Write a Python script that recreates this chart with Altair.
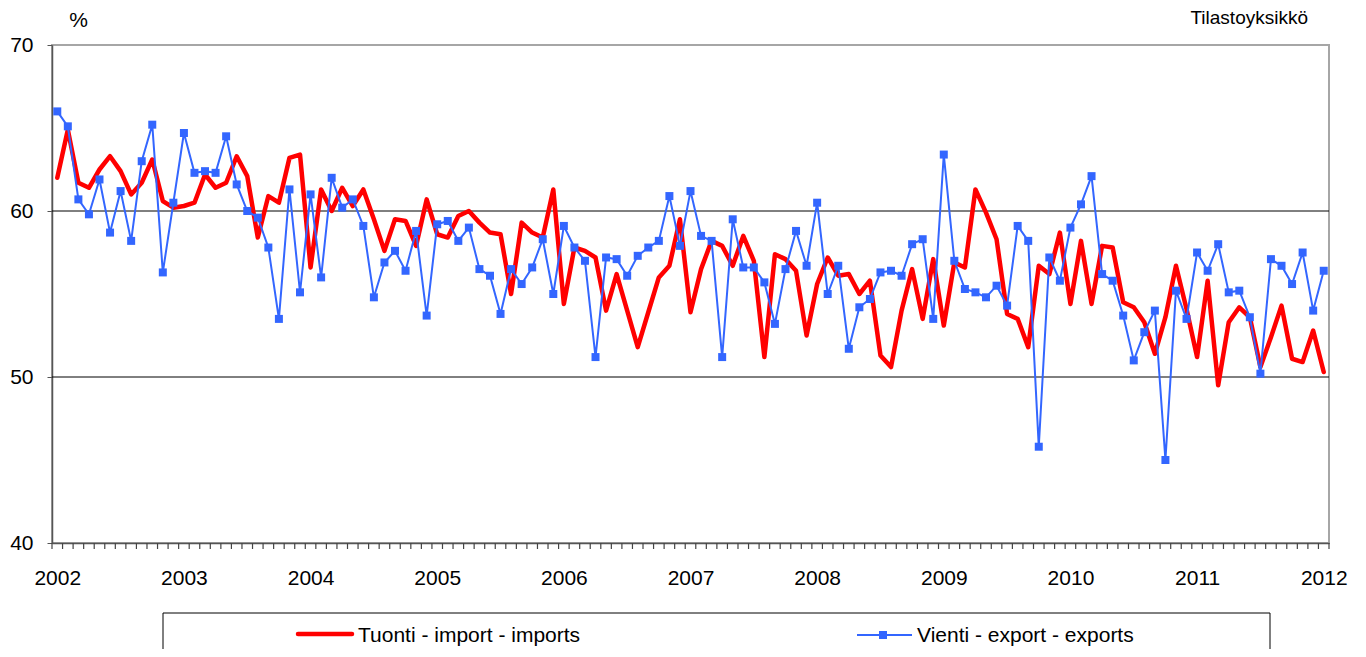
import altair as alt
import pandas as pd

years = list(range(2002, 2013))
series_names = ["Tuonti - import - imports", "Vienti - export - exports"]
series_colors = ["#FF0000", "#3366FF"]
source_label = "Tilastoyksikkö"
y_ticks = [40, 50, 60, 70]
grid_values = [50, 60]

imports = [
    62.0, 64.9, 61.7, 61.4, 62.5, 63.3, 62.4, 61.0, 61.7, 63.1, 60.6, 60.2,
    60.3, 60.5, 62.2, 61.4, 61.7, 63.3, 62.1, 58.4, 60.9, 60.5, 63.2, 63.4,
    56.6, 61.3, 60.0, 61.4, 60.3, 61.3, 59.5, 57.6, 59.5, 59.4, 57.9, 60.7,
    58.6, 58.4, 59.7, 60.0, 59.3, 58.7, 58.6, 55.0, 59.3, 58.7, 58.4, 61.3,
    54.4, 57.8, 57.6, 57.2, 54.0, 56.2, 54.0, 51.8, 53.9, 56.0, 56.7, 59.5,
    53.9, 56.5, 58.2, 57.9, 56.7, 58.5, 57.0, 51.2, 57.4, 57.1, 56.4, 52.5,
    55.6, 57.2, 56.1, 56.2, 55.0, 55.8, 51.3, 50.6, 54.0, 56.5, 53.5, 57.1,
    53.1, 56.9, 56.6, 61.3, 59.9, 58.3, 53.8, 53.5, 51.8, 56.7, 56.2, 58.7,
    54.4, 58.2, 54.4, 57.9, 57.8, 54.5, 54.2, 53.3, 51.4, 53.6, 56.7, 54.1,
    51.2, 55.8, 49.5, 53.3, 54.2, 53.6, 50.6, 52.4, 54.3, 51.1, 50.9, 52.8,
    50.3,
]

exports = [
    66.0, 65.1, 60.7, 59.8, 61.9, 58.7, 61.2, 58.2, 63.0, 65.2, 56.3, 60.5,
    64.7, 62.3, 62.4, 62.3, 64.5, 61.6, 60.0, 59.6, 57.8, 53.5, 61.3, 55.1,
    61.0, 56.0, 62.0, 60.2, 60.7, 59.1, 54.8, 56.9, 57.6, 56.4, 58.8, 53.7,
    59.2, 59.4, 58.2, 59.0, 56.5, 56.1, 53.8, 56.5, 55.6, 56.6, 58.3, 55.0,
    59.1, 57.8, 57.0, 51.2, 57.2, 57.1, 56.1, 57.3, 57.8, 58.2, 60.9, 57.9,
    61.2, 58.5, 58.2, 51.2, 59.5, 56.6, 56.6, 55.7, 53.2, 56.5, 58.8, 56.7,
    60.5, 55.0, 56.7, 51.7, 54.2, 54.7, 56.3, 56.4, 56.1, 58.0, 58.3, 53.5,
    63.4, 57.0, 55.3, 55.1, 54.8, 55.5, 54.3, 59.1, 58.2, 45.8, 57.2, 55.8,
    59.0, 60.4, 62.1, 56.2, 55.8, 53.7, 51.0, 52.7, 54.0, 45.0, 55.2, 53.5,
    57.5, 56.4, 58.0, 55.1, 55.2, 53.6, 50.2, 57.1, 56.7, 55.6, 57.5, 54.0,
    56.4,
]

n = len(imports)
FONT = "Liberation Sans"

imp_df = pd.DataFrame({"pos": [i + 0.5 for i in range(n)], "value": imports})
exp_df = pd.DataFrame({"pos": [i + 0.5 for i in range(n)], "value": exports})
grid_df = pd.DataFrame({"g": grid_values})
tick_df = pd.DataFrame({"b": list(range(n + 1))})

x_enc = alt.X(
    "pos:Q",
    scale=alt.Scale(domain=[0, n], nice=False, zero=False),
    axis=alt.Axis(
        values=list(range(0, n + 1, 12)),
        labelExpr=f"toString({years[0]} + datum.value / 12)",
        labelOffset=5.3,
        labelFlush=False,
        labelOverlap=False,
        labelBound=False,
        ticks=False,
        domainColor="#555555",
        domainWidth=1.5,
        labelPadding=24,
        labelFont=FONT,
        labelFontSize=21,
        labelColor="black",
        grid=False,
        title=None,
    ),
)

y_enc = alt.Y(
    "value:Q",
    scale=alt.Scale(domain=[40, 70], nice=False, zero=False),
    axis=alt.Axis(
        values=y_ticks,
        tickSize=5,
        tickColor="#555555",
        domainColor="#555555",
        domainWidth=1.5,
        labelPadding=14,
        labelFont=FONT,
        labelFontSize=21,
        labelColor="black",
        labelFlush=False,
        grid=False,
        title="%",
        titleAngle=0,
        titleX=26,
        titleY=-19,
        titleAlign="center",
        titleBaseline="alphabetic",
        titleFont=FONT,
        titleFontSize=21,
        titleFontWeight="normal",
        titleColor="black",
    ),
)

grid = alt.Chart(grid_df).mark_rule(color="black", strokeWidth=1).encode(y="g:Q")

month_ticks = alt.Chart(tick_df).mark_rule(color="#444444", strokeWidth=1.2).encode(
    x="b:Q", y=alt.value(498), y2=alt.value(504)
)

red_line = alt.Chart(imp_df).mark_line(
    color=series_colors[0], strokeWidth=4.5, strokeJoin="round", strokeCap="round"
).encode(x=x_enc, y=y_enc)

blue_line = alt.Chart(exp_df).mark_line(
    color=series_colors[1], strokeWidth=2
).encode(x="pos:Q", y="value:Q")

blue_pts = alt.Chart(exp_df).mark_point(
    shape="square", filled=True, size=64, color=series_colors[1], opacity=1
).encode(x="pos:Q", y="value:Q")

one = pd.DataFrame({"k": [0]})
source_txt = alt.Chart(one).mark_text(
    text=source_label, align="right", baseline="alphabetic", font=FONT, fontSize=19, color="black"
).encode(x=alt.value(1256), y=alt.value(-21))

legend_box = alt.Chart(one).mark_rect(fill="white", stroke="black", strokeWidth=1).encode(
    x=alt.value(111), x2=alt.value(1218), y=alt.value(568), y2=alt.value(660)
)
leg_red = alt.Chart(one).mark_rule(color=series_colors[0], strokeWidth=4.5, strokeCap="round").encode(
    x=alt.value(246), x2=alt.value(300), y=alt.value(589)
)
leg_red_txt = alt.Chart(one).mark_text(
    text=series_names[0], align="left", baseline="alphabetic", font=FONT, fontSize=21, color="black"
).encode(x=alt.value(306), y=alt.value(597))
leg_blue = alt.Chart(one).mark_rule(color=series_colors[1], strokeWidth=2).encode(
    x=alt.value(805), x2=alt.value(860), y=alt.value(590)
)
leg_blue_pt = alt.Chart(one).mark_point(
    shape="square", filled=True, size=64, color=series_colors[1], opacity=1
).encode(x=alt.value(831), y=alt.value(590))
leg_blue_txt = alt.Chart(one).mark_text(
    text=series_names[1], align="left", baseline="alphabetic", font=FONT, fontSize=21, color="black"
).encode(x=alt.value(865), y=alt.value(597))

chart = alt.layer(
    grid, month_ticks, red_line, blue_line, blue_pts, source_txt,
    legend_box, leg_red, leg_red_txt, leg_blue, leg_blue_pt, leg_blue_txt,
).properties(
    width=1277,
    height=498,
    autosize=alt.AutoSizeParams(type="none"),
    padding={"left": 44, "top": 37, "right": 29, "bottom": 106},
    background="white",
).configure_view(stroke="#A6A6A6", strokeWidth=2)

chart.save("out.html", embed_options={"renderer": "svg", "actions": False})
